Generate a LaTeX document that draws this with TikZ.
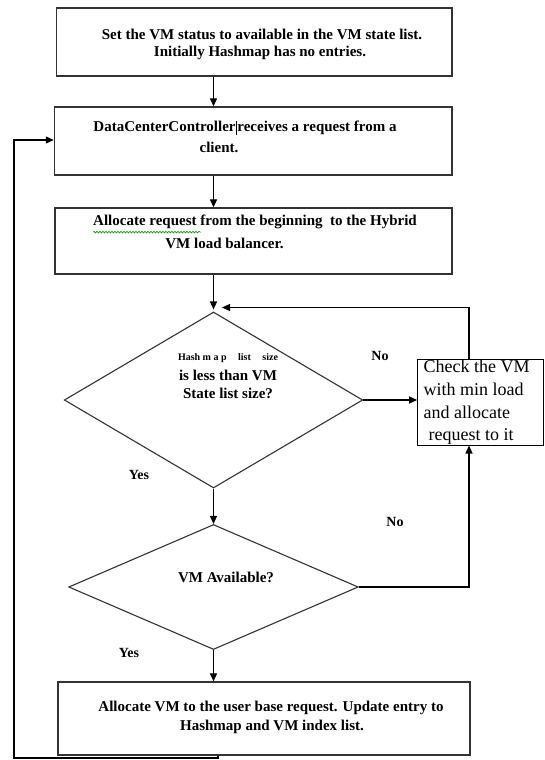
\documentclass[tikz,border=0pt]{standalone}
\usepackage{fontspec}
\setmainfont{Liberation Serif}
\usetikzlibrary{arrows.meta,shapes.geometric,decorations.pathmorphing}
\begin{document}
\begin{tikzpicture}[x=1pt,y=-1pt,
  box/.style={draw=black!80, line width=1.3pt, rectangle, inner sep=0pt},
  dia/.style={draw=black!80, line width=1.1pt, diamond, inner sep=0pt},
  txt/.style={font=\bfseries\fontsize{15}{19}\selectfont, inner sep=0pt, text=black},
  small/.style={font=\bfseries\fontsize{10}{12}\selectfont, inner sep=0pt},
  rtxt/.style={font=\fontsize{18}{22.7}\selectfont, align=left, inner sep=0pt, anchor=north west},
  lab/.style={font=\bfseries\fontsize{14}{16}\selectfont, inner sep=0pt},
  arr/.style={line width=1.2pt, -{Triangle[length=8pt,width=7pt]}},
  squig/.style={draw=green!55!black, line width=0.6pt, decorate, decoration={snake, amplitude=0.8pt, segment length=3pt}}]
\useasboundingbox (0,0) rectangle (544,760);
% boxes
\node[box, minimum width=395.4pt, minimum height=68pt] (b1) at (254.3,42) {};
\node[box, minimum width=397.5pt, minimum height=68pt] (b2) at (253.2,141) {};
\node[box, minimum width=397pt, minimum height=66pt] (b3) at (253.5,241) {};
\node[box, minimum width=412pt, minimum height=73pt] (b4) at (264,718.5) {};
\node[draw=black, line width=1pt, rectangle, inner sep=0pt, minimum width=125.8pt, minimum height=86pt] (rb) at (480.6,402) {};
% diamonds
\node[dia, minimum width=298.5pt, minimum height=176pt] (d1) at (213.5,400) {};
\node[dia, minimum width=289.6pt, minimum height=125pt] (d2) at (213.5,587) {};
% texts
\node[txt] (t1a) at (262,34) {Set the VM status to available in the VM state list.};
\node[txt] (t1b) at (260,53) {Initially Hashmap has no entries.};
\node[txt] (t2a) at (245,128) {DataCenterController\rule[-3pt]{1.8pt}{14pt}receives a request from a};
\node[txt] (t2b) at (219,147) {client.};
\node[txt] (t3a) at (255,222) {Allocate request from the beginning\ \ to the Hybrid};
\node[txt] (t3b) at (224.5,243) {VM load balancer.};
\node[txt] (t4a) at (271,708) {Allocate VM to the user base request. Update entry to};
\node[txt] (t4b) at (272,727) {Hashmap and VM index list.};
\node[small] (q1a) at (228,358) {\makebox[100pt][s]{Hash m a p\hfill list\hfill size}};
\node[txt] (q1b) at (228,375) {is less than VM};
\node[txt] (q1c) at (228,393) {State list size?};
\node[txt] (q2) at (226,577) {VM Available?};
\node[rtxt] (rt) at (423.5,360) {Check the VM\\with min load\\and allocate\\\hspace*{5pt}request to it};
% labels
\node[lab] (no1) at (380,356) {No};
\node[lab] (no2) at (395,522) {No};
\node[lab] (yes1) at (139,475) {Yes};
\node[lab] (yes2) at (129,653) {Yes};
% spell-check underline
\draw[squig] (t3a.south west) ++(0,3) -- ++(108,0);
% helper coordinates
\coordinate (col) at (213.5,0);
\coordinate (fbx) at (469,0);
\coordinate (fbtip) at (222,307.5);
\coordinate (ls) at (218,0);
\coordinate (lb) at (14,758);
\coordinate (lt) at (14,140);
% connectors
\draw[arr] (b1.south -| col) -- (b2.north -| col);
\draw[arr] (b2.south -| col) -- (b3.north -| col);
\draw[arr, shorten >=2pt] (b3.south -| d1.north) -- (d1.north);
\draw[arr] (d1.east) -- (d1.east -| rb.west);
\draw[arr] (rb.north -| fbx) |- (fbtip);
\draw[arr] (d1.south) -- (d2.north);
\draw[arr] (d2.east) -| (rb.south -| fbx);
\draw[arr] (d2.south) -- (b4.north -| d2.south);
\draw[arr] (b4.south -| ls) |- (lb) -- (lt) -- (lt -| b2.west);
\end{tikzpicture}
\end{document}
